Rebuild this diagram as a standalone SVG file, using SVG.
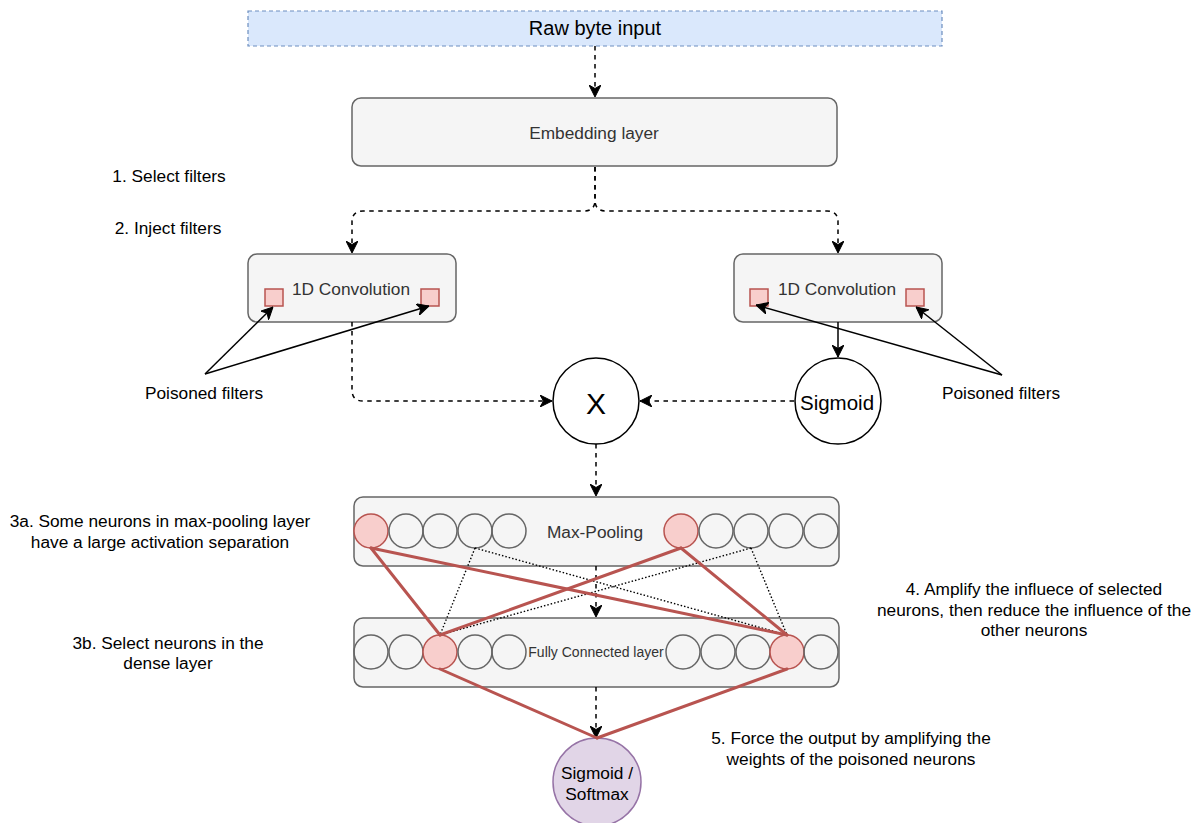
<svg xmlns="http://www.w3.org/2000/svg" width="1199" height="823" viewBox="0 0 1199 823">
  <style>
    text { font-family: "Liberation Sans", Arial, sans-serif; text-anchor: middle; dominant-baseline: central; fill: #000; }
    .lbl { font-size: 17.3px; }
    .inbox { fill: #333; }
    .layer { fill: #f5f5f5; stroke: #666; stroke-width: 1.5; }
    .input { fill: #dae8fc; stroke: #6c8ebf; stroke-width: 1.2; stroke-dasharray: 4 3; }
    .op { fill: #fff; stroke: #000; stroke-width: 1.5; }
    .out { fill: #e1d5e7; stroke: #9673a6; stroke-width: 1.5; }
    .filt { fill: #f8cecc; stroke: #b85450; stroke-width: 1.5; }
    .neu { fill: none; stroke: #666; stroke-width: 1.5; }
    .hot { fill: #f8cecc; stroke: #b85450; stroke-width: 1.5; }
    .flow { fill: none; stroke: #000; stroke-width: 1.5; stroke-dasharray: 4.5 4.5; }
    .solid { fill: none; stroke: #000; stroke-width: 1.5; }
    .w { fill: none; stroke: #b85450; stroke-width: 3; stroke-linecap: round; }
    .dot { fill: none; stroke: #000; stroke-width: 1.4; stroke-dasharray: 1.5 2; }
  </style>
  <defs>
    <marker id="arr" viewBox="0 0 12 12" markerWidth="12" markerHeight="12" refX="12" refY="6" orient="auto" markerUnits="userSpaceOnUse">
      <path d="M0,0 L12,6 L0,12 L3.5,6 z" fill="#000" stroke="#000" stroke-width="1" stroke-dasharray="none"/>
    </marker>
  </defs>

  <!-- input -->
  <g id="raw-input">
    <rect class="input" x="248" y="11" width="694" height="35"/>
    <text x="595" y="28" style="font-size:20px">Raw byte input</text>
  </g>

  <g id="embedding">
    <rect class="layer" x="352" y="98" width="485" height="68" rx="9"/>
    <text class="lbl inbox" x="594" y="133">Embedding layer</text>
  </g>

  <g id="conv-left">
    <rect class="layer" x="248" y="254" width="208" height="68" rx="9"/>
    <text class="lbl inbox" x="351" y="289">1D Convolution</text>
    <rect class="filt" x="265" y="289" width="18" height="17"/>
    <rect class="filt" x="421" y="289" width="18" height="17"/>
  </g>

  <g id="conv-right">
    <rect class="layer" x="734" y="254" width="208" height="68" rx="9"/>
    <text class="lbl inbox" x="837" y="289">1D Convolution</text>
    <rect class="filt" x="750" y="289" width="18" height="17"/>
    <rect class="filt" x="906" y="289" width="18" height="17"/>
  </g>

  <g id="multiply">
    <circle class="op" cx="596" cy="401" r="43"/>
    <text x="596" y="403" style="font-size:30px">X</text>
  </g>

  <g id="gate">
    <circle class="op" cx="838" cy="401" r="43"/>
    <text x="837" y="402" style="font-size:20.5px">Sigmoid</text>
  </g>

  <g id="max-pooling">
    <rect class="layer" x="354" y="497" width="485" height="69" rx="9"/>
    <text class="lbl inbox" x="595" y="532">Max-Pooling</text>
    <circle class="hot" cx="371" cy="531" r="17"/>
    <circle class="neu" cx="406" cy="531" r="17"/>
    <circle class="neu" cx="440" cy="531" r="17"/>
    <circle class="neu" cx="475" cy="531" r="17"/>
    <circle class="neu" cx="509" cy="531" r="17"/>
    <circle class="hot" cx="681" cy="531" r="17"/>
    <circle class="neu" cx="716" cy="531" r="17"/>
    <circle class="neu" cx="751" cy="531" r="17"/>
    <circle class="neu" cx="786" cy="531" r="17"/>
    <circle class="neu" cx="821" cy="531" r="17"/>
  </g>

  <g id="dense">
    <rect class="layer" x="354" y="618" width="485" height="69" rx="9"/>
    <text class="inbox" x="596" y="652" style="font-size:14px">Fully Connected layer</text>
    <circle class="neu" cx="371" cy="652" r="17"/>
    <circle class="neu" cx="406" cy="652" r="17"/>
    <circle class="hot" cx="440" cy="652" r="17"/>
    <circle class="neu" cx="475" cy="652" r="17"/>
    <circle class="neu" cx="509" cy="652" r="17"/>
    <circle class="neu" cx="683" cy="652" r="17"/>
    <circle class="neu" cx="718" cy="652" r="17"/>
    <circle class="neu" cx="753" cy="652" r="17"/>
    <circle class="hot" cx="787" cy="652" r="17"/>
    <circle class="neu" cx="821" cy="652" r="17"/>
  </g>

  <g id="output">
    <circle class="out" cx="597" cy="782" r="44"/>
    <text class="lbl" x="597" y="773">Sigmoid /</text>
    <text class="lbl" x="597" y="794">Softmax</text>
  </g>

  <!-- annotations -->
  <g id="notes">
    <text class="lbl" x="169" y="176">1. Select filters</text>
    <text class="lbl" x="168" y="228">2. Inject filters</text>
    <text class="lbl" x="204" y="393">Poisoned filters</text>
    <text class="lbl" x="1001" y="393">Poisoned filters</text>
    <text class="lbl" x="160" y="521">3a. Some neurons in max-pooling layer</text>
    <text class="lbl" x="160" y="542">have a large activation separation</text>
    <text class="lbl" x="168" y="643">3b. Select neurons in the</text>
    <text class="lbl" x="168" y="663">dense layer</text>
    <text class="lbl" x="1034" y="589">4. Amplify the influece of selected</text>
    <text class="lbl" x="1034" y="610">neurons, then reduce the influence of the</text>
    <text class="lbl" x="1034" y="630">other neurons</text>
    <text class="lbl" x="851" y="738">5. Force the output by amplifying the</text>
    <text class="lbl" x="851" y="759">weights of the poisoned neurons</text>
  </g>

  <!-- connectors -->
  <g id="connectors">
    <path class="flow" d="M595,46 V97" marker-end="url(#arr)"/>
    <path class="flow" d="M595,167 V200 Q595,211 584,211 H363 Q352,211 352,222 V253" marker-end="url(#arr)"/>
    <path class="flow" d="M595,167 V200 Q595,211 606,211 H827 Q838,211 838,222 V253" marker-end="url(#arr)"/>
    <path class="flow" d="M352,322 V390 Q352,401 363,401 H552" marker-end="url(#arr)"/>
    <path class="flow" d="M794,401 H640" marker-end="url(#arr)"/>
    <path class="solid" d="M838,322 V357" marker-end="url(#arr)"/>
    <path class="flow" d="M596,444 V496" marker-end="url(#arr)"/>
    <path class="flow" d="M596,566 V617" marker-end="url(#arr)"/>
    <path class="flow" d="M596,687 V738" marker-end="url(#arr)"/>

    <!-- filter callouts -->
    <path class="solid" d="M205,374 L273,307" marker-end="url(#arr)"/>
    <path class="solid" d="M205,374 L429,306" marker-end="url(#arr)"/>
    <path class="solid" d="M1002,375 L756,305" marker-end="url(#arr)"/>
    <path class="solid" d="M1002,375 L916,307" marker-end="url(#arr)"/>

    <!-- weak weights -->
    <path class="dot" d="M475,548 L440,635"/>
    <path class="dot" d="M475,548 L787,635"/>
    <path class="dot" d="M751,548 L440,635"/>
    <path class="dot" d="M751,548 L787,635"/>

    <!-- amplified weights -->
    <path class="w" d="M371,548 L440,635"/>
    <path class="w" d="M371,548 L787,635"/>
    <path class="w" d="M681,548 L440,635"/>
    <path class="w" d="M681,548 L787,635"/>
    <path class="w" d="M440,669 L597,738"/>
    <path class="w" d="M787,669 L597,738"/>
  </g>
</svg>
